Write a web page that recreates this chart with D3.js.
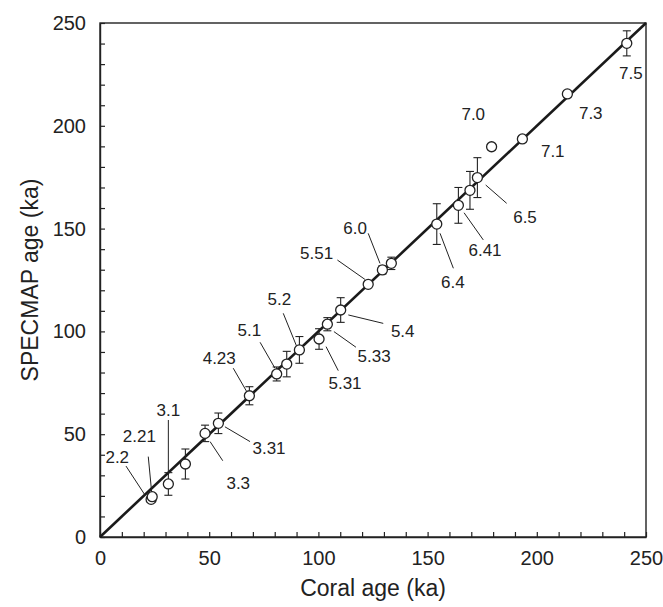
<!DOCTYPE html>
<html>
<head>
<meta charset="utf-8">
<script src="https://cdn.jsdelivr.net/npm/d3@7/dist/d3.min.js"></script>
<style>
  html, body { margin: 0; padding: 0; background: #fff; }
  svg text { font-family: "Liberation Sans", Arial, Helvetica, sans-serif; fill: #222; }
</style>
</head>
<body>
<svg id="chart" width="663" height="607"></svg>
<script>
// Marine isotope sub-stages: coral age vs SPECMAP age (ka)
const stages   = ["2.2","2.21","3.1","","3.3","3.31","4.23","5.1","","5.2","5.31","5.33","5.4","5.51","6.0","","6.4","6.41","","6.5","7.0","7.1","7.3","7.5"];
const coralAge = [23.4, 23.9, 31.3, 39.1, 48.1, 54.2, 68.4, 80.9, 85.5, 91.3, 100.3, 104.1, 110.2, 122.8, 129.3, 133.4, 154.2, 164.1, 169.4, 172.8, 179.3, 193.4, 214.0, 241.2];
const specmapAge = [18.3, 19.6, 25.8, 35.5, 50.4, 55.3, 68.7, 79.3, 84.1, 91.0, 96.3, 103.5, 110.4, 122.9, 129.9, 133.1, 152.2, 161.3, 168.6, 174.8, 189.8, 193.6, 215.5, 240.1];
const specmapErr = [0, 0, 5.5, 7.3, 4, 5, 4.4, 3.4, 6.2, 6.5, 5, 3.2, 6, 0, 2, 3, 9.9, 8.7, 9.2, 9.7, 1.5, 1.5, 1.5, 6.1];

const tickValues = [0, 50, 100, 150, 200, 250];
const minorTicks = d3.range(0, 251, 10);

// Where each stage name sits, in axis units, with its leader line (label end -> point end)
const labelLayout = [
  { name: "2.2",  at: [7.9, 38.8],   leader: [11.9, 34.5, 20.6, 20.4] },
  { name: "2.21", at: [18.0, 48.8],  leader: [22.1, 39.1, 23.7, 21.3] },
  { name: "3.1",  at: [31.3, 61.3],  leader: [31.3, 56.9, 31.3, 30.2] },
  { name: "3.3",  at: [63.3, 25.8],  leader: [50.4, 46.4, 56.2, 37.1] },
  { name: "3.31", at: [77.4, 43.1],  leader: [57.2, 53.6, 68.7, 46.4] },
  { name: "4.23", at: [54.6, 86.9],  leader: [61.0, 82.1, 67.2, 70.7] },
  { name: "5.1",  at: [68.4, 100.3], leader: [73.3, 94.7, 80.1, 82.1] },
  { name: "5.2",  at: [82.1, 115.6], leader: [83.9, 108.8, 90.1, 92.6] },
  { name: "5.31", at: [112.2, 74.8], leader: [103.5, 92.6, 109.1, 80.9] },
  { name: "5.33", at: [125.5, 87.7], leader: [107.1, 99.9, 117.2, 92.3] },
  { name: "5.4",  at: [138.6, 99.9], leader: [113.7, 108.0, 129.7, 103.9] },
  { name: "5.51", at: [99.2, 138.0], leader: [108.7, 134.7, 121.3, 125.3] },
  { name: "6.0",  at: [116.8, 150.1],leader: [122.8, 147.7, 128.2, 133.1] },
  { name: "6.4",  at: [161.6, 124.0],leader: [155.7, 147.7, 161.8, 130.7] },
  { name: "6.41", at: [176.3, 139.3],leader: [166.7, 157.7, 175.5, 144.5] },
  { name: "6.5",  at: [194.6, 155.6],leader: [176.6, 171.2, 186.2, 162.3] },
  { name: "7.0",  at: [170.9, 205.7],leader: null },
  { name: "7.1",  at: [207.3, 187.4],leader: null },
  { name: "7.3",  at: [224.7, 206.1],leader: null },
  { name: "7.5",  at: [243.1, 225.2],leader: null }
];

const svg = d3.select("#chart");
const margin = { left: 100, top: 23, right: 17, bottom: 70 };
const W = 663 - margin.left - margin.right;
const H = 607 - margin.top - margin.bottom;

const x = d3.scaleLinear().domain([0, 250]).range([0, W]);
const y = d3.scaleLinear().domain([0, 250]).range([H, 0]);

const g = svg.append("g").attr("transform", `translate(${margin.left},${margin.top})`);

// Frame
g.append("rect").attr("x", 0).attr("y", 0).attr("width", W).attr("height", H)
  .attr("fill", "none").attr("stroke", "#222").attr("stroke-width", 1.4);

// Inward minor ticks on bottom and left axes
g.append("g").attr("transform", `translate(0,${H})`)
  .call(d3.axisBottom(x).tickValues(minorTicks).tickSizeInner(-5).tickSizeOuter(0).tickFormat(""))
  .call(s => s.select(".domain").attr("stroke", "#222").attr("stroke-width", 1.4))
  .call(s => s.selectAll(".tick line").attr("stroke", "#222").attr("stroke-width", 1.2));
g.append("g")
  .call(d3.axisLeft(y).tickValues(minorTicks).tickSizeInner(-5).tickSizeOuter(0).tickFormat(""))
  .call(s => s.select(".domain").attr("stroke", "#222").attr("stroke-width", 1.4))
  .call(s => s.selectAll(".tick line").attr("stroke", "#222").attr("stroke-width", 1.2));

// Tick labels
g.append("g").attr("transform", `translate(0,${H})`)
  .call(d3.axisBottom(x).tickValues(tickValues).tickSize(0).tickPadding(14).tickFormat(d3.format("d")))
  .call(s => s.select(".domain").remove())
  .call(s => s.selectAll("text").attr("font-size", 20).attr("fill", "#222")
    .style("font-family", "'Liberation Sans', Arial, sans-serif"));
g.append("g")
  .call(d3.axisLeft(y).tickValues(tickValues).tickSize(0).tickPadding(14).tickFormat(d3.format("d")))
  .call(s => s.select(".domain").remove())
  .call(s => s.selectAll("text").attr("font-size", 20).attr("fill", "#222")
    .style("font-family", "'Liberation Sans', Arial, sans-serif"));

// Axis titles
svg.append("text").attr("x", margin.left + W / 2).attr("y", 596)
  .attr("text-anchor", "middle").attr("font-size", 23).text("Coral age (ka)");
svg.append("text").attr("transform", `translate(38,${margin.top + H / 2}) rotate(-90)`)
  .attr("text-anchor", "middle").attr("font-size", 23).text("SPECMAP age (ka)");

// 1:1 line
g.append("line")
  .attr("x1", x(0)).attr("y1", y(0)).attr("x2", x(250)).attr("y2", y(250))
  .attr("stroke", "#1a1a1a").attr("stroke-width", 2.6);

// Leader lines and stage labels
labelLayout.forEach(l => {
  if (l.leader) {
    g.append("line")
      .attr("x1", x(l.leader[0])).attr("y1", y(l.leader[1]))
      .attr("x2", x(l.leader[2])).attr("y2", y(l.leader[3]))
      .attr("stroke", "#222").attr("stroke-width", 1);
  }
  g.append("text").attr("x", x(l.at[0])).attr("y", y(l.at[1]))
    .attr("text-anchor", "middle").attr("dominant-baseline", "central")
    .attr("font-size", 17).text(l.name);
});

// Error bars
const pts = coralAge.map((c, i) => ({ c, s: specmapAge[i], e: specmapErr[i], name: stages[i] }));
const eb = g.append("g").attr("stroke", "#222").attr("stroke-width", 1.1);
pts.filter(d => d.e > 0).forEach(d => {
  eb.append("line").attr("x1", x(d.c)).attr("x2", x(d.c)).attr("y1", y(d.s - d.e)).attr("y2", y(d.s + d.e));
  [d.s - d.e, d.s + d.e].forEach(v => {
    eb.append("line").attr("x1", x(d.c) - 4).attr("x2", x(d.c) + 4).attr("y1", y(v)).attr("y2", y(v));
  });
});

// Data points
g.append("g").selectAll("circle").data(pts).join("circle")
  .attr("cx", d => x(d.c)).attr("cy", d => y(d.s)).attr("r", 5)
  .attr("fill", "#fff").attr("stroke", "#222").attr("stroke-width", 1.3);
</script>
</body>
</html>
